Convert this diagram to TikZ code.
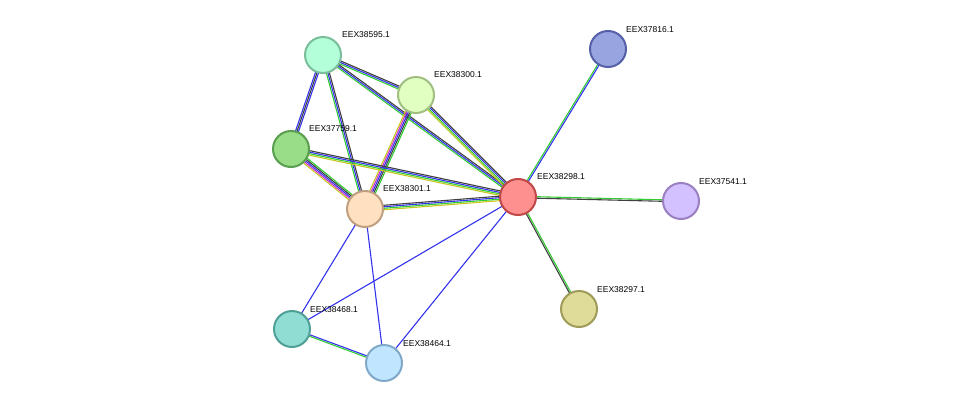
\documentclass[tikz,border=0pt]{standalone}
\usepackage{fontspec}
\setmainfont{Liberation Sans}
\usetikzlibrary{calc}
\definecolor{eg}{HTML}{33CC33}
\definecolor{eb}{HTML}{3333EE}
\definecolor{ek}{HTML}{404040}
\definecolor{ey}{HTML}{C8C820}
\definecolor{em}{HTML}{CC33CC}
\newcommand{\stredge}[3]{%
  \foreach \c [count=\i] in {#3} {\xdef\nn{\i}}%
  \foreach \c [count=\i] in {#3} {%
    \pgfmathsetmacro{\o}{(\i-(\nn+1)/2)*1.5}%
    \draw[\c,line width=1.1pt] ($(#1)!\o pt!90:(#2)$) -- ($(#2)!\o pt!-90:(#1)$);}}
\tikzset{nd/.style={circle,minimum size=36pt,inner sep=0pt,line width=2pt},
  lb/.style={font=\fontsize{8.5}{10}\selectfont,anchor=south west,inner sep=0pt}}
\begin{document}
\begin{tikzpicture}[x=1pt,y=-1pt]
\useasboundingbox[fill=white] (0,0) rectangle (976,409);
\coordinate (a) at (323,55);
\coordinate (b) at (416,95);
\coordinate (c) at (291,149);
\coordinate (d) at (365,209);
\coordinate (e) at (518,197);
\coordinate (f) at (608,49);
\coordinate (g) at (681,201);
\coordinate (h) at (579,309);
\coordinate (i) at (292,329);
\coordinate (j) at (384,363);
\stredge{a}{b}{eg,eb,ek}
\stredge{a}{c}{eb,ek,eb}
\stredge{a}{d}{eg,eb,ek}
\stredge{a}{e}{eg,eb,ek}
\stredge{b}{e}{ey,eg,eb,ek}
\stredge{b}{d}{ey,em,eb,ek,eg}
\stredge{c}{d}{ey,em,eb,ek,eg}
\stredge{c}{e}{ey,eg,eb,ek}
\stredge{d}{e}{ey,eg,eb,ek}
\stredge{f}{e}{eg,eb}
\stredge{g}{e}{eg,ek}
\stredge{h}{e}{eg,ek}
\stredge{d}{i}{eb}
\stredge{d}{j}{eb}
\stredge{e}{i}{eb}
\stredge{e}{j}{eb}
\stredge{i}{j}{eg,eb}
\definecolor{fa}{RGB}{179,255,217}\definecolor{da}{RGB}{122,191,154}
\definecolor{fb}{RGB}{224,255,192}\definecolor{db}{RGB}{160,191,128}
\definecolor{fc}{RGB}{153,221,136}\definecolor{dc}{RGB}{90,158,80}
\definecolor{fd}{RGB}{255,224,192}\definecolor{dd}{RGB}{192,160,128}
\definecolor{fe}{RGB}{255,144,144}\definecolor{de}{RGB}{192,72,72}
\definecolor{ff}{RGB}{152,164,224}\definecolor{df}{RGB}{85,96,168}
\definecolor{fg}{RGB}{211,192,255}\definecolor{dg}{RGB}{154,128,192}
\definecolor{fh}{RGB}{222,220,152}\definecolor{dh}{RGB}{158,156,88}
\definecolor{fi}{RGB}{144,221,212}\definecolor{di}{RGB}{80,160,152}
\definecolor{fj}{RGB}{192,230,255}\definecolor{dj}{RGB}{128,168,200}
\node[nd,fill=fa,draw=da] (na) at (a) {};
\node[nd,fill=fb,draw=db] (nb) at (b) {};
\node[nd,fill=fc,draw=dc] (nc) at (c) {};
\node[nd,fill=fd,draw=dd] (nd1) at (d) {};
\node[nd,fill=fe,draw=de] (ne) at (e) {};
\node[nd,fill=ff,draw=df] (nf) at (f) {};
\node[nd,fill=fg,draw=dg] (ng) at (g) {};
\node[nd,fill=fh,draw=dh] (nh) at (h) {};
\node[nd,fill=fi,draw=di] (ni) at (i) {};
\node[nd,fill=fj,draw=dj] (nj) at (j) {};
\node[lb] at (342,38) {EEX38595.1};
\node[lb] at (434,78) {EEX38300.1};
\node[lb] at (309,132) {EEX37759.1};
\node[lb] at (383,192) {EEX38301.1};
\node[lb] at (537,180) {EEX38298.1};
\node[lb] at (626,33) {EEX37816.1};
\node[lb] at (699,185) {EEX37541.1};
\node[lb] at (597,293) {EEX38297.1};
\node[lb] at (310,313) {EEX38468.1};
\node[lb] at (403,347) {EEX38464.1};
\end{tikzpicture}
\end{document}
